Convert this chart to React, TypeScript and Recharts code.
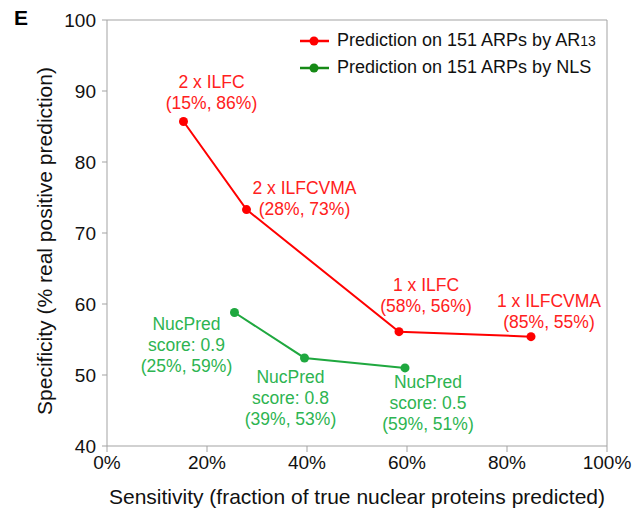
import {
  Legend,
  ReferenceLine,
  Scatter,
  ScatterChart,
  XAxis,
  YAxis,
  Label,
} from 'recharts';

const xTicks = [0, 20, 40, 60, 80, 100];
const yTicks = [40, 50, 60, 70, 80, 90, 100];

const ar13Sensitivity = [15.3, 27.9, 58.4, 84.8];
const ar13Specificity = [85.7, 73.3, 56.1, 55.4];
const ar13Notes = [
  ['2 x ILFC', '(15%, 86%)'],
  ['2 x ILFCVMA', '(28%, 73%)'],
  ['1 x ILFC', '(58%, 56%)'],
  ['1 x ILFCVMA', '(85%, 55%)'],
];

const nlsSensitivity = [25.5, 39.5, 59.6];
const nlsSpecificity = [58.8, 52.4, 51.0];
const nlsNotes = [
  ['NucPred', 'score: 0.9', '(25%, 59%)'],
  ['NucPred', 'score: 0.8', '(39%, 53%)'],
  ['NucPred', 'score: 0.5', '(59%, 51%)'],
];

// where each note sits relative to its point (dx, dy of first line)
const ar13NoteOffsets = [[28, -40], [58, -22], [27, -47], [18, -36]];
const nlsNoteOffsets = [[-48, 11], [-14, 19], [23, 14]];

const ar13Data = ar13Sensitivity.map((x, i) => ({ x, y: ar13Specificity[i], i }));
const nlsData = nlsSensitivity.map((x, i) => ({ x, y: nlsSpecificity[i], i }));

const FONT = '"Liberation Sans", Arial, sans-serif';
const AXIS = '#a3a3a3';
const RED = '#ff0000';
const RED_TEXT = '#ff2020';
const GREEN = '#1fa83f';
const GREEN_TEXT = '#2db451';
const GREEN_LEGEND = '#168a16';

function makeShape(notes: string[][], offsets: number[][], fill: string, textColor: string) {
  return (props: any) => {
    const { cx, cy, payload } = props;
    const idx = payload.i;
    const [dx, dy] = offsets[idx];
    return (
      <g>
        <circle cx={cx} cy={cy} r={4.5} fill={fill} />
        <text
          textAnchor="middle"
          fill={textColor}
          fontSize={17.5}
          fontFamily={FONT}
          dominantBaseline="central"
        >
          {notes[idx].map((line, k) => (
            <tspan key={k} x={cx + dx} y={cy + dy + k * 21}>
              {line}
            </tspan>
          ))}
        </text>
      </g>
    );
  };
}

function LegendBox() {
  const rows = [
    { color: RED, label: (<>Prediction on 151 ARPs by AR<span style={{ fontSize: 14 }}>13</span></>) },
    { color: GREEN_LEGEND, label: <>Prediction on 151 ARPs by NLS</> },
  ];
  return (
    <div style={{ fontFamily: FONT, fontSize: 18, color: '#111' }}>
      {rows.map((r, k) => (
        <div key={k} style={{ display: 'flex', alignItems: 'center', height: 27 }}>
          <svg width={37} height={12} style={{ flex: 'none' }}>
            <line x1={0} y1={6} x2={29} y2={6} stroke={r.color} strokeWidth={2.5} />
            <circle cx={14} cy={6} r={4.5} fill={r.color} />
          </svg>
          <span style={{ whiteSpace: 'nowrap' }}>{r.label}</span>
        </div>
      ))}
    </div>
  );
}

export default function App() {
  return (
    <div style={{ position: 'absolute', left: 0, top: 0, width: 643, height: 515, background: '#fff' }}>
      <div
        style={{
          position: 'absolute',
          left: 14,
          top: 6,
          fontFamily: FONT,
          fontWeight: 'bold',
          fontSize: 21,
          color: '#000',
        }}
      >
        E
      </div>
      <ScatterChart
        width={643}
        height={515}
        margin={{ top: 20, right: 36, bottom: 0, left: 0 }}
        style={{ fontFamily: FONT }}
      >
        <XAxis
          type="number"
          dataKey="x"
          domain={[0, 100]}
          ticks={xTicks}
          tickFormatter={(v) => `${v}%`}
          height={69}
          stroke={AXIS}
          tickSize={6}
          tickMargin={4}
          tick={{ fill: '#111', fontSize: 19 }}
        >
          <Label
            value="Sensitivity (fraction of true nuclear proteins predicted)"
            position="insideBottom"
            offset={11}
            fill="#111"
            fontSize={21}
          />
        </XAxis>
        <YAxis
          type="number"
          dataKey="y"
          domain={[40, 100]}
          ticks={yTicks}
          width={107}
          stroke={AXIS}
          tickSize={5}
          tickMargin={6}
          tick={{ fill: '#111', fontSize: 19 }}
        >
          <Label
            value="Specificity (% real positive prediction)"
            position="center"
            angle={-90}
            dx={-9}
            dy={8}
            fill="#111"
            fontSize={21}
          />
        </YAxis>
        <ReferenceLine y={100} stroke={AXIS} />
        <ReferenceLine x={100} stroke={AXIS} />
        <Legend
          layout="vertical"
          align="center"
          verticalAlign="middle"
          content={() => <LegendBox />}
          wrapperStyle={{ position: 'absolute', top: 27, left: 300, width: 'auto' }}
        />
        <Scatter
          name="Prediction on 151 ARPs by AR13"
          data={ar13Data}
          fill={RED}
          line={{ stroke: RED, strokeWidth: 2 }}
          shape={makeShape(ar13Notes, ar13NoteOffsets, RED, RED_TEXT)}
          isAnimationActive={false}
        />
        <Scatter
          name="Prediction on 151 ARPs by NLS"
          data={nlsData}
          fill={GREEN}
          line={{ stroke: GREEN, strokeWidth: 2 }}
          shape={makeShape(nlsNotes, nlsNoteOffsets, GREEN, GREEN_TEXT)}
          isAnimationActive={false}
        />
      </ScatterChart>
    </div>
  );
}
